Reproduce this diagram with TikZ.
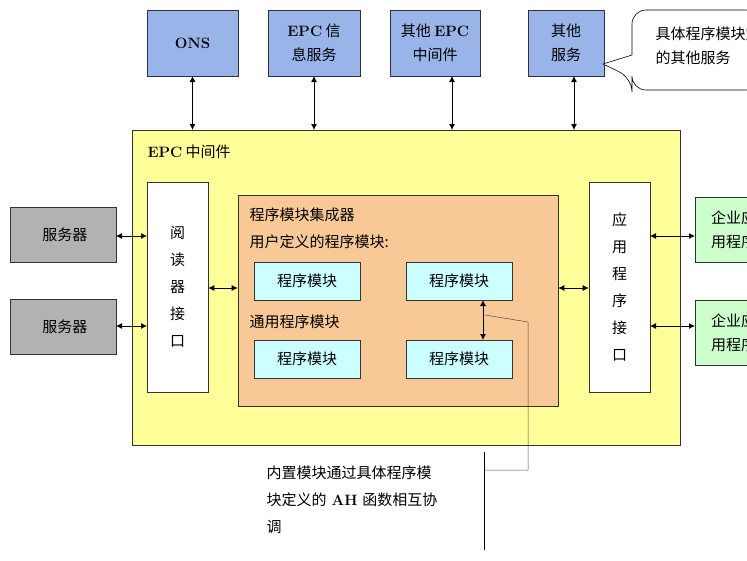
\documentclass[tikz,border=0pt]{standalone}
\usepackage{fontspec}
\newfontfamily\cjk{Noto Sans CJK SC}
\usetikzlibrary{arrows.meta}
\begin{document}
\begin{tikzpicture}[x=1pt,y=-1pt,
 box/.style={draw=black!80,line width=0.6pt,inner sep=0pt},
 top/.style={box,fill={rgb,255:red,153;green,180;blue,232}},
 mod/.style={box,fill={rgb,255:red,204;green,255;blue,255}},
 lbl/.style={font=\cjk\fontsize{15}{24}\selectfont,align=center},
 arr/.style={{Latex[length=6pt,width=6pt]}-{Latex[length=6pt,width=6pt]},line width=0.8pt}]
\clip (0,0) rectangle (747,560);
\useasboundingbox (0,0) rectangle (747,560);
% top boxes
\node[top,minimum width=91,minimum height=66,lbl] (ons) at (192.5,43) {\bfseries\rmfamily ONS};
\node[top,minimum width=92,minimum height=66,lbl] (eis) at (314,43) {{\bfseries\rmfamily EPC} 信\\息服务};
\node[top,minimum width=90,minimum height=66,lbl] (oem) at (435,43) {其他 {\bfseries\rmfamily EPC}\\中间件};
\node[top,minimum width=76,minimum height=66,lbl] (oth) at (566,43) {其他\\服务};
% callout
\draw[line width=0.6pt,fill=white,rounded corners=14] (632,40) -- (632,10) -- (760,10) -- (760,90) -- (632,90) -- (632,78) [sharp corners]-- (603,64) -- (632,55) [rounded corners=14]-- cycle;
\node[lbl,anchor=west,align=left] (cal) at (652,46) {具体程序模块定义\\的其他服务};
% middleware
\node[box,fill={rgb,255:red,255;green,255;blue,153},minimum width=548,minimum height=315] (mw) at (406,287.5) {};
\node[lbl,anchor=west] (mwl) at (144,152) {{\bfseries\rmfamily EPC} 中间件};
\foreach \x in {192.5,314,452,574}
  \draw[arr] (\x,76) -- (\x,130);
% interfaces
\node[box,fill=white,minimum width=61,minimum height=210,lbl,font=\cjk\fontsize{15}{27}\selectfont] (rd) at (177.5,287) {阅\\读\\器\\接\\口};
\node[box,fill=white,minimum width=61,minimum height=210,lbl,font=\cjk\fontsize{15}{27}\selectfont] (ap) at (619.5,287) {应\\用\\程\\序\\接\\口};
% integrator
\node[box,fill={rgb,255:red,248;green,200;blue,150},minimum width=320,minimum height=211] (ig) at (398,300.5) {};
\node[lbl,anchor=west] (t1) at (246,215) {程序模块集成器};
\node[lbl,anchor=west] (t2) at (246,242) {用户定义的程序模块:};
\node[lbl,anchor=west] (t3) at (246,322) {通用程序模块};
\node[mod,minimum width=106,minimum height=38,lbl] (m1) at (307,281) {程序模块};
\node[mod,minimum width=106,minimum height=38,lbl] (m2) at (459,281) {程序模块};
\node[mod,minimum width=106,minimum height=38,lbl] (m3) at (307,359) {程序模块};
\node[mod,minimum width=106,minimum height=38,lbl] (m4) at (459,359) {程序模块};
\draw[arr] (483,300) -- (483,340);
\draw[arr] (rd.east|-0,288) -- (ig.west|-0,288);
\draw[arr] (ig.east|-0,288) -- (ap.west|-0,288);
% servers
\node[box,fill={rgb,255:red,178;green,178;blue,178},minimum width=106,minimum height=55,lbl,anchor=west] (s1) at (10,234.5) {\ 服务器};
\node[box,fill={rgb,255:red,178;green,178;blue,178},minimum width=106,minimum height=55,lbl,anchor=west] (s2) at (10,327) {\ 服务器};
\draw[arr] (116,236) -- (147,236);
\draw[arr] (116,326) -- (147,326);
% enterprise
\node[box,fill={rgb,255:red,204;green,255;blue,204},minimum width=70,minimum height=65,lbl,anchor=west,align=left] (e1) at (695,229.5) {\ \ 企业应\\\ \ 用程序};
\node[box,fill={rgb,255:red,204;green,255;blue,204},minimum width=70,minimum height=65,lbl,anchor=west,align=left] (e2) at (695,332.5) {\ \ 企业应\\\ \ 用程序};
\draw[arr] (650,236) -- (695,236);
\draw[arr] (650,326) -- (695,326);
% annotation
\coordinate (c1) at (528,322);
\coordinate (c2) at (528,470);
\coordinate (c3) at (484,470);
\draw[line width=0.5pt,black!70] (485,315) -- (c1) -- (c2) -- (c3);
\draw[line width=0.6pt] (484,452) -- (484,550);
\node[lbl,anchor=north west,align=left,text width=220,font=\cjk\fontsize{15}{27}\selectfont] (note) at (263,462) {内置模块通过具体程序模\\块定义的 {\bfseries\rmfamily AH} 函数相互协\\调};
\end{tikzpicture}
\end{document}
